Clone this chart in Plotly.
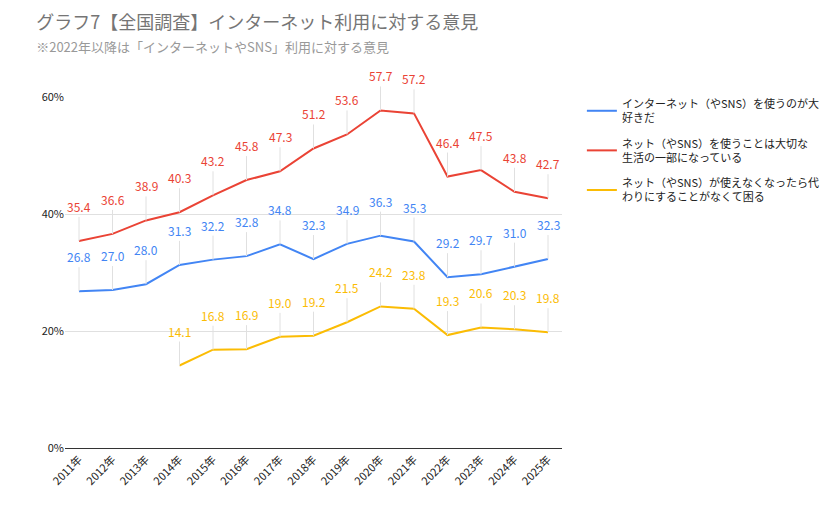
import plotly.graph_objects as go

years = [f"{y}年" for y in range(2011, 2026)]
s_blue = [26.8,27.0,28.0,31.3,32.2,32.8,34.8,32.3,34.9,36.3,35.3,29.2,29.7,31.0,32.3]
s_red = [35.4,36.6,38.9,40.3,43.2,45.8,47.3,51.2,53.6,57.7,57.2,46.4,47.5,43.8,42.7]
s_yel = [None,None,None,14.1,16.8,16.9,19.0,19.2,21.5,24.2,23.8,19.3,20.6,20.3,19.8]
names = ["インターネット（やSNS）を使うのが大<br>好きだ",
         "ネット（やSNS）を使うことは大切な<br>生活の一部になっている",
         "ネット（やSNS）が使えなくなったら代<br>わりにすることがなくて困る"]
colors = ["#4285f4", "#ea4335", "#fbbc04"]

fig = go.Figure()
anns = []
for i, (name, vals, c) in enumerate(zip(names, [s_blue, s_red, s_yel], colors)):
    fig.add_trace(go.Scatter(x=years, y=vals, name=name, mode="lines", legendgroup=f"g{i}",
                             line=dict(color=c, width=2)))
    for x, v in zip(years, vals):
        if v is None:
            continue
        anns.append(dict(x=x, y=v, xref="x", yref="y", text=f"{v:.1f}",
                         showarrow=True, arrowhead=0, arrowwidth=1,
                         arrowcolor="#e0e0e0", ax=0, ay=-24,
                         font=dict(color=c, size=12), yanchor="bottom"))

fig.update_layout(
    width=829, height=513, paper_bgcolor="white", plot_bgcolor="white",
    font=dict(family="Noto Sans CJK JP, Roboto", color="#222"),
    margin=dict(l=57, r=259, t=89, b=73),
    title=dict(text="グラフ7【全国調査】インターネット利用に対する意見<br><span style='font-size:13px;color:#999'>※2022年以降は「インターネットやSNS」利用に対する意見</span>",
               x=0.034, y=0.96, xanchor="left", yanchor="top",
               font=dict(size=18, color="#757575")),
    xaxis=dict(tickangle=-45, showgrid=False, showline=True, linecolor="#333",
               tickfont=dict(size=11)),
    yaxis=dict(range=[0, 60], tickvals=[0, 20, 40, 60], ticktext=["0%", "20%", "40%", "60%"],
               gridcolor="#e0e0e0", zeroline=False, tickfont=dict(size=11)),
    legend=dict(x=1.04, y=1.02, xanchor="left", yanchor="top", traceorder="grouped",
                font=dict(size=11), tracegroupgap=8),
    annotations=anns,
)
fig.write_html("out.html")
